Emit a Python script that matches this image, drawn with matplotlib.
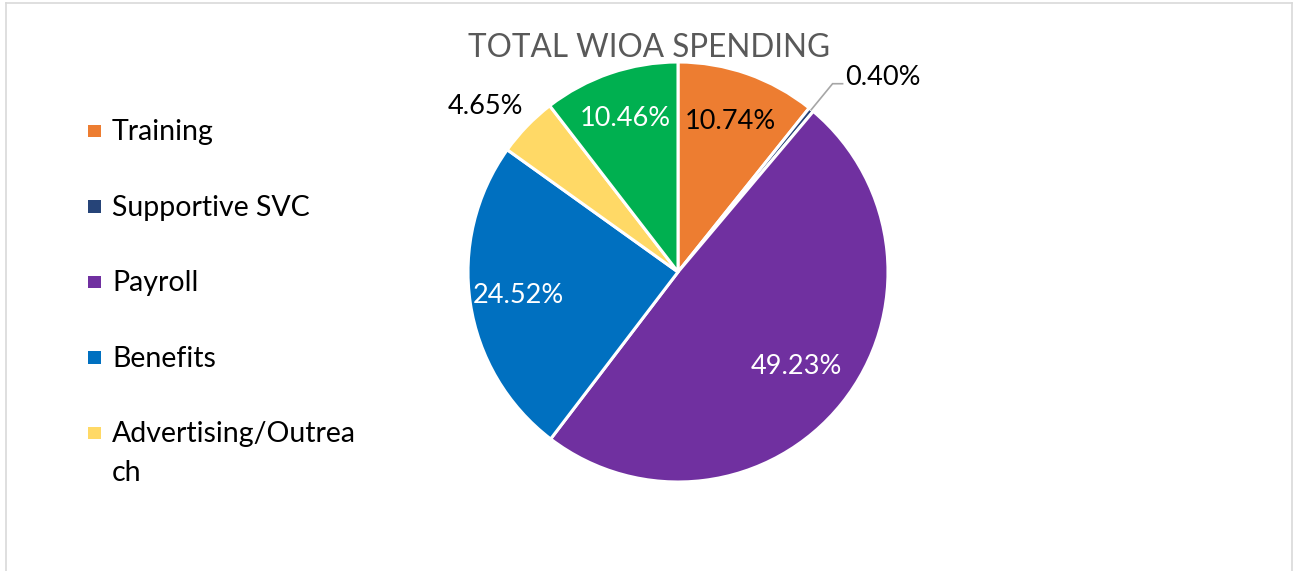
import textwrap

import matplotlib
matplotlib.use("Agg")
import matplotlib.pyplot as plt
import numpy as np

# Spending breakdown (percent of total)
categories = ["Training", "Supportive SVC", "Payroll", "Benefits",
              "Advertising/Outreach", "Other"]
shares = [10.74, 0.40, 49.23, 24.52, 4.65, 10.46]
colors = ["#ED7D31", "#264478", "#7030A0", "#0070C0", "#FFD966", "#00B050"]
label_colors = ["black", "black", "white", "white", "black", "white"]
legend_count = 5  # the legend box only has room for the first five entries
title = "TOTAL WIOA SPENDING"

W, H = 1295, 571
FONT = ["Lato", "DejaVu Sans"]

fig = plt.figure(figsize=(W / 100, H / 100), dpi=100)
ax = fig.add_axes([0, 0, 1, 1])

cx, cy, R = 678, H - 272, 210
wedges, _ = ax.pie(shares, colors=colors, startangle=90, counterclock=False,
                   center=(cx, cy), radius=R,
                   wedgeprops=dict(edgecolor="white", linewidth=2.2))
ax.set_xlim(0, W)
ax.set_ylim(0, H)
ax.set_aspect("equal")
ax.axis("off")


def polar(r, ang_deg):
    a = np.deg2rad(ang_deg)
    return cx + r * np.cos(a), cy + r * np.sin(a)


# Percentage labels
inside_r = [0.76, None, 0.72, 0.77, None, 0.77]
for i, (w, s) in enumerate(zip(wedges, shares)):
    mid = 0.5 * (w.theta1 + w.theta2)
    txt = f"{s:.2f}%"
    if s >= 5:
        x, y = polar(inside_r[i] * R, mid)
        ax.text(x, y, txt, ha="center", va="center", fontsize=19.5,
                color=label_colors[i], family=FONT)
    elif s >= 1:
        x, y = polar(1.05 * R, mid)
        ax.text(x + 4, y, txt, ha="right", va="bottom", fontsize=19.5,
                color=label_colors[i], family=FONT)
    else:
        x0, y0 = polar(1.0 * R, mid)
        x1, y1 = polar(1.16 * R, mid)
        x2 = x1 + 10
        ax.plot([x0, x1, x2], [y0, y1, y1], color="#A6A6A6", lw=1.2,
                solid_joinstyle="miter")
        ax.text(x2 + 3, y1 + 6, txt, ha="left", va="center", fontsize=19.5,
                color=label_colors[i], family=FONT)

# Title
ax.text(649, H - 57, title, ha="center", va="baseline", fontsize=22.7,
        color="#595959", family=FONT)

# Legend, stacked down the left side
row0, row_step, line_step = 131, 75.6, 38.5
for i in range(legend_count):
    yc = H - (row0 + i * row_step)
    ax.add_patch(plt.Rectangle((88, yc - 6), 12.5, 12.5,
                               facecolor=colors[i], edgecolor="none"))
    lines = textwrap.wrap(categories[i], width=18, break_long_words=True)
    for k, line in enumerate(lines):
        ax.text(112, yc - 9 - k * line_step, line, ha="left", va="baseline",
                fontsize=20.5, color="black", family=FONT)

# Chart-area border
border = dict(color="#D9D9D9", lw=1.2)
ax.plot([5.5, 5.5], [-5, H - 2.5], **border)
ax.plot([1291.5, 1291.5], [-5, H - 2.5], **border)
ax.plot([5.5, 1291.5], [H - 2.5, H - 2.5], **border)

fig.savefig("out.png", dpi=100, facecolor="white")
